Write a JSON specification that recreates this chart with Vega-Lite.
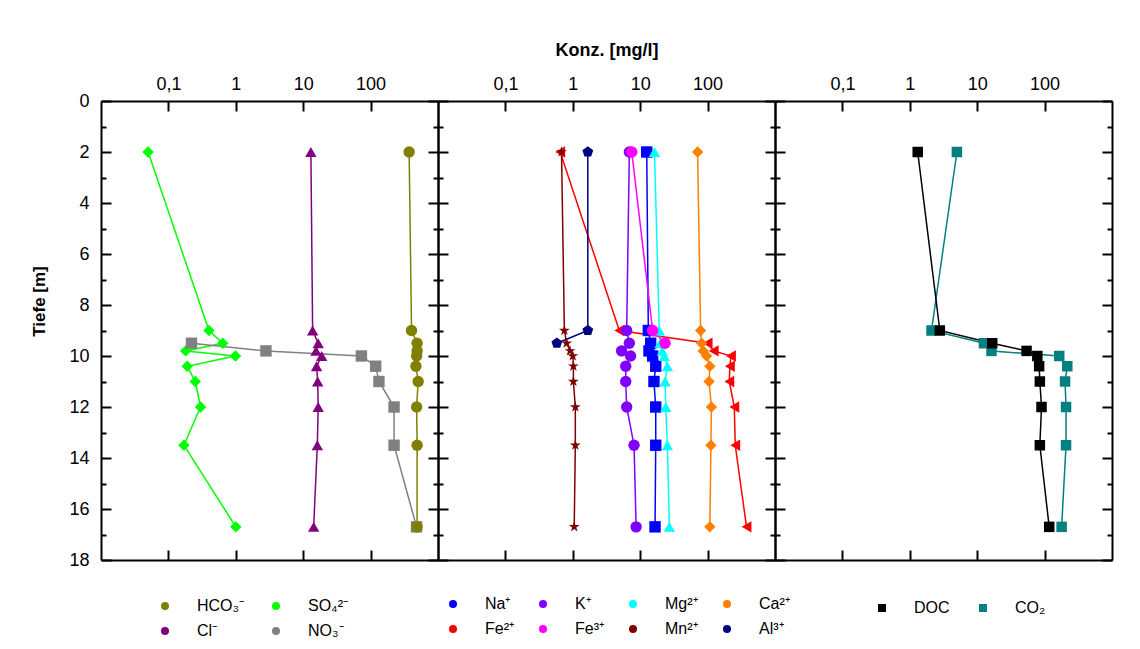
{
  "$schema": "https://vega.github.io/schema/vega-lite/v6.json",
  "background": "white",
  "padding": {"left": 30, "top": 41, "right": 5, "bottom": 5},
  "config": {
    "font": "Liberation Sans",
    "view": {"stroke": null},
    "axis": {"domainColor": "black", "domainWidth": 2, "tickColor": "black", "tickWidth": 2, "labelFontSize": 18, "labelColor": "black", "grid": false, "titleColor": "black"},
    "legend": {"labelFontSize": 16, "labelColor": "black", "labelLimit": 300}
  },
  "datasets": {
    "p1": [
      {"series": "SO₄²⁻", "depth": 2, "conc": 0.05}, {"series": "SO₄²⁻", "depth": 9, "conc": 0.4}, {"series": "SO₄²⁻", "depth": 9.5, "conc": 0.64}, {"series": "SO₄²⁻", "depth": 9.8, "conc": 0.18}, {"series": "SO₄²⁻", "depth": 10, "conc": 0.99}, {"series": "SO₄²⁻", "depth": 10.4, "conc": 0.19}, {"series": "SO₄²⁻", "depth": 11, "conc": 0.25}, {"series": "SO₄²⁻", "depth": 12, "conc": 0.3}, {"series": "SO₄²⁻", "depth": 13.5, "conc": 0.17}, {"series": "SO₄²⁻", "depth": 16.7, "conc": 1.0},
      {"series": "Cl⁻", "depth": 2, "conc": 13.0}, {"series": "Cl⁻", "depth": 9, "conc": 13.8}, {"series": "Cl⁻", "depth": 9.5, "conc": 16.7}, {"series": "Cl⁻", "depth": 9.8, "conc": 15.5}, {"series": "Cl⁻", "depth": 10, "conc": 18.8}, {"series": "Cl⁻", "depth": 10.4, "conc": 15.8}, {"series": "Cl⁻", "depth": 11, "conc": 16.4}, {"series": "Cl⁻", "depth": 12, "conc": 16.7}, {"series": "Cl⁻", "depth": 13.5, "conc": 16.2}, {"series": "Cl⁻", "depth": 16.7, "conc": 14.3},
      {"series": "NO₃⁻", "depth": 9.5, "conc": 0.22}, {"series": "NO₃⁻", "depth": 9.8, "conc": 2.8}, {"series": "NO₃⁻", "depth": 10, "conc": 73}, {"series": "NO₃⁻", "depth": 10.4, "conc": 119}, {"series": "NO₃⁻", "depth": 11, "conc": 133}, {"series": "NO₃⁻", "depth": 12, "conc": 223}, {"series": "NO₃⁻", "depth": 13.5, "conc": 223}, {"series": "NO₃⁻", "depth": 16.7, "conc": 480},
      {"series": "HCO₃⁻", "depth": 2, "conc": 373}, {"series": "HCO₃⁻", "depth": 9, "conc": 405}, {"series": "HCO₃⁻", "depth": 9.5, "conc": 490}, {"series": "HCO₃⁻", "depth": 9.8, "conc": 490}, {"series": "HCO₃⁻", "depth": 10, "conc": 482}, {"series": "HCO₃⁻", "depth": 10.4, "conc": 470}, {"series": "HCO₃⁻", "depth": 11, "conc": 508}, {"series": "HCO₃⁻", "depth": 12, "conc": 482}, {"series": "HCO₃⁻", "depth": 13.5, "conc": 490}, {"series": "HCO₃⁻", "depth": 16.7, "conc": 490}
    ],
    "p2": [
      {"series": "Fe²⁺", "depth": 2, "conc": 0.65}, {"series": "Fe²⁺", "depth": 9, "conc": 4.9}, {"series": "Fe²⁺", "depth": 9.5, "conc": 100}, {"series": "Fe²⁺", "depth": 9.8, "conc": 123}, {"series": "Fe²⁺", "depth": 10, "conc": 222}, {"series": "Fe²⁺", "depth": 10.4, "conc": 214}, {"series": "Fe²⁺", "depth": 11, "conc": 210}, {"series": "Fe²⁺", "depth": 12, "conc": 249}, {"series": "Fe²⁺", "depth": 13.5, "conc": 257}, {"series": "Fe²⁺", "depth": 16.7, "conc": 378},
      {"series": "Mn²⁺", "depth": 2, "conc": 0.68}, {"series": "Mn²⁺", "depth": 9, "conc": 0.75}, {"series": "Mn²⁺", "depth": 9.5, "conc": 0.81}, {"series": "Mn²⁺", "depth": 9.8, "conc": 0.91}, {"series": "Mn²⁺", "depth": 10, "conc": 1.0}, {"series": "Mn²⁺", "depth": 10.4, "conc": 1.02}, {"series": "Mn²⁺", "depth": 11, "conc": 1.02}, {"series": "Mn²⁺", "depth": 12, "conc": 1.09}, {"series": "Mn²⁺", "depth": 13.5, "conc": 1.09}, {"series": "Mn²⁺", "depth": 16.7, "conc": 1.05},
      {"series": "Al³⁺", "depth": 2, "conc": 1.67}, {"series": "Al³⁺", "depth": 9, "conc": 1.67}, {"series": "Al³⁺", "depth": 9.5, "conc": 0.58},
      {"series": "K⁺", "depth": 2, "conc": 6.9}, {"series": "K⁺", "depth": 9, "conc": 6.3}, {"series": "K⁺", "depth": 9.5, "conc": 6.9}, {"series": "K⁺", "depth": 9.8, "conc": 5.3}, {"series": "K⁺", "depth": 10, "conc": 7.2}, {"series": "K⁺", "depth": 10.4, "conc": 6.1}, {"series": "K⁺", "depth": 11, "conc": 6.1}, {"series": "K⁺", "depth": 12, "conc": 6.3}, {"series": "K⁺", "depth": 13.5, "conc": 8.1}, {"series": "K⁺", "depth": 16.7, "conc": 8.7},
      {"series": "Na⁺", "depth": 2, "conc": 12.5}, {"series": "Na⁺", "depth": 9, "conc": 13.2}, {"series": "Na⁺", "depth": 9.5, "conc": 14.3}, {"series": "Na⁺", "depth": 9.8, "conc": 13.5}, {"series": "Na⁺", "depth": 10, "conc": 15.3}, {"series": "Na⁺", "depth": 10.4, "conc": 17}, {"series": "Na⁺", "depth": 11, "conc": 16}, {"series": "Na⁺", "depth": 12, "conc": 17}, {"series": "Na⁺", "depth": 13.5, "conc": 17}, {"series": "Na⁺", "depth": 16.7, "conc": 16.6},
      {"series": "Mg²⁺", "depth": 2, "conc": 16.3}, {"series": "Mg²⁺", "depth": 9, "conc": 19.2}, {"series": "Mg²⁺", "depth": 9.5, "conc": 19.7}, {"series": "Mg²⁺", "depth": 9.8, "conc": 21.3}, {"series": "Mg²⁺", "depth": 10, "conc": 22.8}, {"series": "Mg²⁺", "depth": 10.4, "conc": 25.3}, {"series": "Mg²⁺", "depth": 11, "conc": 23.4}, {"series": "Mg²⁺", "depth": 12, "conc": 23.9}, {"series": "Mg²⁺", "depth": 13.5, "conc": 25.3}, {"series": "Mg²⁺", "depth": 16.7, "conc": 27.1},
      {"series": "Fe³⁺", "depth": 2, "conc": 7.5}, {"series": "Fe³⁺", "depth": 9, "conc": 15.3}, {"series": "Fe³⁺", "depth": 9.5, "conc": 23.4},
      {"series": "Ca²⁺", "depth": 2, "conc": 71}, {"series": "Ca²⁺", "depth": 9, "conc": 78.8}, {"series": "Ca²⁺", "depth": 9.5, "conc": 81.5}, {"series": "Ca²⁺", "depth": 9.8, "conc": 86}, {"series": "Ca²⁺", "depth": 10, "conc": 96.7}, {"series": "Ca²⁺", "depth": 10.4, "conc": 108}, {"series": "Ca²⁺", "depth": 11, "conc": 105}, {"series": "Ca²⁺", "depth": 12, "conc": 114}, {"series": "Ca²⁺", "depth": 13.5, "conc": 112}, {"series": "Ca²⁺", "depth": 16.7, "conc": 108}
    ],
    "p3": [
      {"series": "CO₂", "depth": 2, "conc": 5.0}, {"series": "CO₂", "depth": 9, "conc": 2.1}, {"series": "CO₂", "depth": 9.5, "conc": 12.6}, {"series": "CO₂", "depth": 9.8, "conc": 16.3}, {"series": "CO₂", "depth": 10, "conc": 165}, {"series": "CO₂", "depth": 10.4, "conc": 217}, {"series": "CO₂", "depth": 11, "conc": 201}, {"series": "CO₂", "depth": 12, "conc": 208}, {"series": "CO₂", "depth": 13.5, "conc": 208}, {"series": "CO₂", "depth": 16.7, "conc": 179},
      {"series": "DOC", "depth": 2, "conc": 1.31}, {"series": "DOC", "depth": 9, "conc": 2.79}, {"series": "DOC", "depth": 9.5, "conc": 16.7}, {"series": "DOC", "depth": 9.8, "conc": 54}, {"series": "DOC", "depth": 10, "conc": 78}, {"series": "DOC", "depth": 10.4, "conc": 83}, {"series": "DOC", "depth": 11, "conc": 85}, {"series": "DOC", "depth": 12, "conc": 90}, {"series": "DOC", "depth": 13.5, "conc": 85}, {"series": "DOC", "depth": 16.7, "conc": 117}
    ]
  },
  "spacing": 0,
  "bounds": "flush",
  "resolve": {"scale": {"x": "independent", "y": "independent", "color": "independent", "shape": "independent"}, "legend": {"color": "independent", "shape": "independent"}},
  "hconcat": [
    {
      "width": 337, "height": 459,
      "data": {"name": "p1"},
      "resolve": {"axis": {"x": "independent", "y": "independent"}, "scale": {"color": "independent"}},
      "layer": [
        {
          "mark": {"type": "line", "strokeWidth": 1.5},
          "encoding": {
            "x": {"field": "conc", "type": "quantitative", "scale": {"type": "log", "domain": [0.01, 1000], "nice": false}, "axis": {"orient": "top", "values": [0.1, 1, 10, 100], "labelExpr": "replace(format(datum.value, '~g'), '.', ',')", "tickSize": -10, "labelPadding": 18, "title": null}},
            "y": {"field": "depth", "type": "quantitative", "scale": {"domain": [0, 18], "reverse": true, "nice": false, "zero": false}, "axis": {"orient": "left", "values": [0, 2, 4, 6, 8, 10, 12, 14, 16, 18], "tickSize": -10, "labelPadding": 22, "title": "Tiefe [m]", "titleFontSize": 17, "titleFontWeight": "bold", "titlePadding": 20, "titleY": 200}},
            "color": {"field": "series", "type": "nominal", "scale": {"domain": ["HCO₃⁻", "SO₄²⁻", "Cl⁻", "NO₃⁻"], "range": ["#808000", "#00ff00", "#800080", "#808080"]}, "legend": null},
            "order": {"field": "depth", "type": "quantitative"}
          }
        },
        {
          "mark": {"type": "point", "filled": true, "size": 130, "opacity": 1},
          "encoding": {
            "x": {"field": "conc", "type": "quantitative", "scale": {"type": "log", "domain": [0.01, 1000], "nice": false}, "axis": {"orient": "bottom", "values": [0.1, 1, 10, 100], "labels": false, "tickSize": -10, "title": null}},
            "y": {"field": "depth", "type": "quantitative", "scale": {"domain": [0, 18], "reverse": true, "nice": false, "zero": false}, "axis": {"orient": "right", "values": [0, 2, 4, 6, 8, 10, 12, 14, 16, 18], "labels": false, "tickSize": -10, "title": null}},
            "color": {"field": "series", "type": "nominal", "scale": {"domain": ["HCO₃⁻", "SO₄²⁻", "Cl⁻", "NO₃⁻"], "range": ["#808000", "#00ff00", "#800080", "#808080"]},
              "legend": {"orient": "none", "legendX": 39, "legendY": 497, "direction": "horizontal", "columns": 2, "title": null, "symbolSize": 64, "symbolStrokeWidth": 1.5, "symbolOffset": 17, "labelOffset": 24, "columnPadding": 6, "rowPadding": 9,
                "encode": {"symbols": {"update": {
                  "shape": {"signal": "{'HCO₃⁻':'M-5.4,0H-1M1,0H5.4M-1,0A1,1,0,1,1,1,0A1,1,0,1,1,-1,0Z','SO₄²⁻':'M-5.4,0H-1.3M1.3,0H5.4M-1.3,0L0,-1.3L1.3,0L0,1.3Z','Cl⁻':'M-5.4,0H-0.7M0.7,0H5.4M0,-1.3L1.3,0.9L-1.3,0.9Z','NO₃⁻':'M-5.4,0H-1M1,0H5.4M-1,-1H1V1H-1Z'}[datum.value]"},
                  "stroke": {"signal": "{'HCO₃⁻':'#808000','SO₄²⁻':'#00ff00','Cl⁻':'#800080','NO₃⁻':'#808080'}[datum.value]"},
                  "strokeWidth": {"value": 1.5}
                }}}}},
            "shape": {"field": "series", "type": "nominal", "scale": {"domain": ["HCO₃⁻", "SO₄²⁻", "Cl⁻", "NO₃⁻", "-"], "range": ["circle", "diamond", "triangle-up", "square", "cross"]}, "legend": null}
          }
        },
        {
          "mark": {"type": "point", "opacity": 0},
          "encoding": {
            "x": {"field": "conc", "type": "quantitative", "scale": {"type": "log", "domain": [0.01, 1000], "nice": false}, "axis": null},
            "y": {"field": "depth", "type": "quantitative", "scale": {"domain": [0, 18], "reverse": true, "nice": false, "zero": false}, "axis": {"orient": "left", "values": [1, 3, 5, 7, 9, 11, 13, 15, 17], "labels": false, "tickSize": -5, "domain": false, "title": null}}
          }
        },
        {
          "mark": {"type": "point", "opacity": 0},
          "encoding": {
            "x": {"field": "conc", "type": "quantitative", "scale": {"type": "log", "domain": [0.01, 1000], "nice": false}, "axis": null},
            "y": {"field": "depth", "type": "quantitative", "scale": {"domain": [0, 18], "reverse": true, "nice": false, "zero": false}, "axis": {"orient": "right", "values": [1, 3, 5, 7, 9, 11, 13, 15, 17], "labels": false, "tickSize": -5, "domain": false, "title": null}}
          }
        }
      ]
    },
    {
      "width": 337, "height": 459,
      "data": {"name": "p2"},
      "resolve": {"axis": {"x": "independent", "y": "independent"}, "scale": {"color": "independent"}},
      "layer": [
        {
          "mark": {"type": "line", "strokeWidth": 1.5},
          "encoding": {
            "x": {"field": "conc", "type": "quantitative", "scale": {"type": "log", "domain": [0.01, 1000], "nice": false}, "axis": {"orient": "top", "values": [0.1, 1, 10, 100], "labelExpr": "replace(format(datum.value, '~g'), '.', ',')", "tickSize": -10, "labelPadding": 18, "title": "Konz. [mg/l]", "titleFontSize": 18, "titleFontWeight": "bold", "titlePadding": 16}},
            "y": {"field": "depth", "type": "quantitative", "scale": {"domain": [0, 18], "reverse": true, "nice": false, "zero": false}, "axis": {"orient": "left", "values": [0, 2, 4, 6, 8, 10, 12, 14, 16, 18], "labels": false, "tickSize": -10, "title": null}},
            "color": {"field": "series", "type": "nominal", "scale": {"domain": ["Na⁺", "K⁺", "Mg²⁺", "Ca²⁺", "Fe²⁺", "Fe³⁺", "Mn²⁺", "Al³⁺"], "range": ["#0000ff", "#8000ff", "#00ffff", "#ff8000", "#ff0000", "#ff00ff", "#800000", "#000080"]}, "legend": null},
            "order": {"field": "depth", "type": "quantitative"}
          }
        },
        {
          "mark": {"type": "point", "filled": true, "size": 130, "opacity": 1},
          "encoding": {
            "x": {"field": "conc", "type": "quantitative", "scale": {"type": "log", "domain": [0.01, 1000], "nice": false}, "axis": {"orient": "bottom", "values": [0.1, 1, 10, 100], "labels": false, "tickSize": -10, "title": null}},
            "y": {"field": "depth", "type": "quantitative", "scale": {"domain": [0, 18], "reverse": true, "nice": false, "zero": false}, "axis": {"orient": "right", "values": [0, 2, 4, 6, 8, 10, 12, 14, 16, 18], "labels": false, "tickSize": -10, "title": null}},
            "color": {"field": "series", "type": "nominal", "scale": {"domain": ["Na⁺", "K⁺", "Mg²⁺", "Ca²⁺", "Fe²⁺", "Fe³⁺", "Mn²⁺", "Al³⁺"], "range": ["#0000ff", "#8000ff", "#00ffff", "#ff8000", "#ff0000", "#ff00ff", "#800000", "#000080"]},
              "legend": {"orient": "none", "legendX": -10, "legendY": 495, "direction": "horizontal", "columns": 4, "title": null, "symbolSize": 64, "symbolStrokeWidth": 1.5, "symbolOffset": 17, "labelOffset": 24, "columnPadding": 4, "rowPadding": 9,
                "encode": {"symbols": {"update": {
                  "shape": {"signal": "{'Na⁺':'M-5.4,0H-1M1,0H5.4M-1,-1H1V1H-1Z','K⁺':'M-5.4,0H-1M1,0H5.4M-1,0A1,1,0,1,1,1,0A1,1,0,1,1,-1,0Z','Mg²⁺':'M-5.4,0H-0.7M0.7,0H5.4M0,-1.3L1.3,0.9L-1.3,0.9Z','Ca²⁺':'M-5.4,0H-1.3M1.3,0H5.4M-1.3,0L0,-1.3L1.3,0L0,1.3Z','Fe²⁺':'M-5.4,0H-1.3M0.9,0H5.4M-1.3,0L0.9,-1.3L0.9,1.3Z','Fe³⁺':'M-5.4,0H-1M1,0H5.4M-1,0A1,1,0,1,1,1,0A1,1,0,1,1,-1,0Z','Mn²⁺':'M-5.4,0H-0.5M0.5,0H5.4M0,-1.3L0.29,-0.4L1.24,-0.4L0.47,0.15L0.76,1.05L0,0.5L-0.76,1.05L-0.47,0.15L-1.24,-0.4L-0.29,-0.4Z','Al³⁺':'M-5.4,0H-1M1,0H5.4M0,-1.15L1.09,-0.36L0.68,0.93L-0.68,0.93L-1.09,-0.36Z'}[datum.value]"},
                  "stroke": {"signal": "{'Na⁺':'#0000ff','K⁺':'#8000ff','Mg²⁺':'#00ffff','Ca²⁺':'#ff8000','Fe²⁺':'#ff0000','Fe³⁺':'#ff00ff','Mn²⁺':'#800000','Al³⁺':'#000080'}[datum.value]"},
                  "strokeWidth": {"value": 1.5}
                }}}}},
            "shape": {"field": "series", "type": "nominal", "scale": {"domain": ["Na⁺", "K⁺", "Mg²⁺", "Ca²⁺", "Fe²⁺", "Fe³⁺", "Mn²⁺", "Al³⁺", "-"], "range": ["square", "circle", "triangle-up", "diamond", "triangle-left", "circle", "M0,-1L0.2245,-0.309L0.951,-0.309L0.363,0.118L0.588,0.809L0,0.382L-0.588,0.809L-0.363,0.118L-0.951,-0.309L-0.2245,-0.309Z", "M0,-1L0.951,-0.309L0.588,0.809L-0.588,0.809L-0.951,-0.309Z", "cross"]}, "legend": null}
          }
        },
        {
          "mark": {"type": "point", "opacity": 0},
          "encoding": {
            "x": {"field": "conc", "type": "quantitative", "scale": {"type": "log", "domain": [0.01, 1000], "nice": false}, "axis": null},
            "y": {"field": "depth", "type": "quantitative", "scale": {"domain": [0, 18], "reverse": true, "nice": false, "zero": false}, "axis": {"orient": "left", "values": [1, 3, 5, 7, 9, 11, 13, 15, 17], "labels": false, "tickSize": -5, "domain": false, "title": null}}
          }
        },
        {
          "mark": {"type": "point", "opacity": 0},
          "encoding": {
            "x": {"field": "conc", "type": "quantitative", "scale": {"type": "log", "domain": [0.01, 1000], "nice": false}, "axis": null},
            "y": {"field": "depth", "type": "quantitative", "scale": {"domain": [0, 18], "reverse": true, "nice": false, "zero": false}, "axis": {"orient": "right", "values": [1, 3, 5, 7, 9, 11, 13, 15, 17], "labels": false, "tickSize": -5, "domain": false, "title": null}}
          }
        }
      ]
    },
    {
      "width": 337, "height": 459,
      "data": {"name": "p3"},
      "resolve": {"axis": {"x": "independent", "y": "independent"}, "scale": {"color": "independent"}},
      "layer": [
        {
          "mark": {"type": "line", "strokeWidth": 1.5},
          "encoding": {
            "x": {"field": "conc", "type": "quantitative", "scale": {"type": "log", "domain": [0.01, 1000], "nice": false}, "axis": {"orient": "top", "values": [0.1, 1, 10, 100], "labelExpr": "replace(format(datum.value, '~g'), '.', ',')", "tickSize": -10, "labelPadding": 18, "title": null}},
            "y": {"field": "depth", "type": "quantitative", "scale": {"domain": [0, 18], "reverse": true, "nice": false, "zero": false}, "axis": {"orient": "left", "values": [0, 2, 4, 6, 8, 10, 12, 14, 16, 18], "labels": false, "tickSize": -10, "title": null}},
            "color": {"field": "series", "type": "nominal", "scale": {"domain": ["DOC", "CO₂"], "range": ["#000000", "#008080"]}, "legend": null},
            "order": {"field": "depth", "type": "quantitative"}
          }
        },
        {
          "mark": {"type": "point", "filled": true, "size": 110, "opacity": 1, "shape": "square"},
          "encoding": {
            "x": {"field": "conc", "type": "quantitative", "scale": {"type": "log", "domain": [0.01, 1000], "nice": false}, "axis": {"orient": "bottom", "values": [0.1, 1, 10, 100], "labels": false, "tickSize": -10, "title": null}},
            "y": {"field": "depth", "type": "quantitative", "scale": {"domain": [0, 18], "reverse": true, "nice": false, "zero": false}, "axis": {"orient": "right", "values": [0, 2, 4, 6, 8, 10, 12, 14, 16, 18], "labels": false, "tickSize": -10, "title": null}},
            "color": {"field": "series", "type": "nominal", "scale": {"domain": ["DOC", "CO₂"], "range": ["#000000", "#008080"]},
              "legend": {"orient": "none", "legendX": 82, "legendY": 499, "direction": "horizontal", "columns": 2, "title": null, "symbolSize": 64, "symbolStrokeWidth": 1.5, "symbolOffset": 17, "labelOffset": 24, "columnPadding": 8, "rowPadding": 9,
                "encode": {"symbols": {"update": {
                  "shape": {"value": "M-5.4,0H-1M1,0H5.4M-1,-1H1V1H-1Z"},
                  "stroke": {"signal": "{'DOC':'#000000','CO₂':'#008080'}[datum.value]"},
                  "strokeWidth": {"value": 1.5}
                }}}}}
          }
        },
        {
          "mark": {"type": "point", "opacity": 0},
          "encoding": {
            "x": {"field": "conc", "type": "quantitative", "scale": {"type": "log", "domain": [0.01, 1000], "nice": false}, "axis": null},
            "y": {"field": "depth", "type": "quantitative", "scale": {"domain": [0, 18], "reverse": true, "nice": false, "zero": false}, "axis": {"orient": "left", "values": [1, 3, 5, 7, 9, 11, 13, 15, 17], "labels": false, "tickSize": -5, "domain": false, "title": null}}
          }
        },
        {
          "mark": {"type": "point", "opacity": 0},
          "encoding": {
            "x": {"field": "conc", "type": "quantitative", "scale": {"type": "log", "domain": [0.01, 1000], "nice": false}, "axis": null},
            "y": {"field": "depth", "type": "quantitative", "scale": {"domain": [0, 18], "reverse": true, "nice": false, "zero": false}, "axis": {"orient": "right", "values": [1, 3, 5, 7, 9, 11, 13, 15, 17], "labels": false, "tickSize": -5, "domain": false, "title": null}}
          }
        }
      ]
    }
  ]
}
